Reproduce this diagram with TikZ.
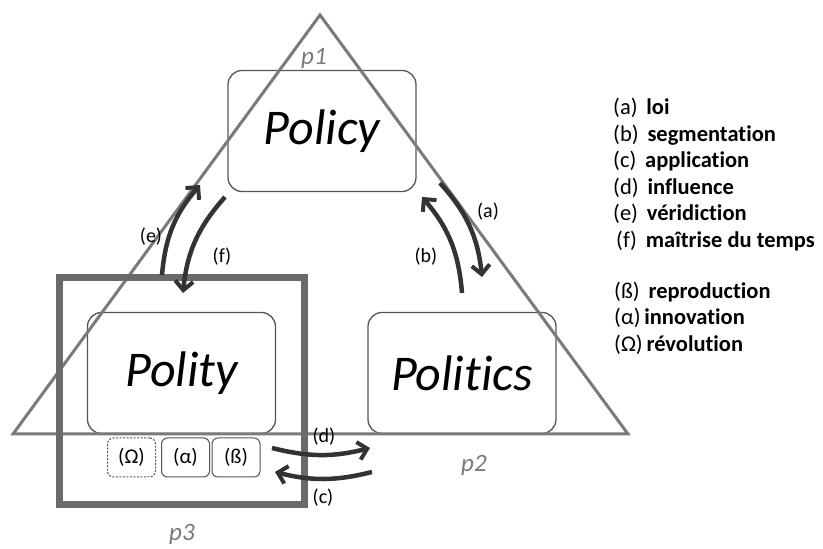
\documentclass[tikz,border=0pt]{standalone}
\usepackage{fontspec}
\setmainfont{Carlito}[Ligatures=NoCommon]
\usetikzlibrary{arrows.meta}
\definecolor{trigray}{HTML}{7A7A7A}
\definecolor{boxgray}{HTML}{555555}
\definecolor{sqgray}{HTML}{6A6A6A}
\definecolor{arrowdark}{HTML}{333333}
\tikzset{
  pbox/.style={draw=boxgray, line width=1.3pt, rounded corners=14pt, minimum width=188pt, minimum height=121pt, inner sep=0pt},
  bigtxt/.style={font=\fontsize{50}{54}\selectfont\itshape},
  smallbox/.style={draw=boxgray, line width=1pt, rounded corners=6pt, minimum width=48pt, minimum height=39pt, inner sep=0pt, font=\fontsize{21}{23}\selectfont},
  flow/.style={draw=arrowdark, line width=4.5pt, -{Straight Barb[length=9pt,width=18pt,line width=4pt]}},
  flowlbl/.style={font=\fontsize{20}{22}\selectfont, text=black},
  plbl/.style={font=\fontsize{25}{27}\selectfont\itshape, text=trigray},
  legend/.style={anchor=west, font=\fontsize{22.5}{24}\selectfont\bfseries, inner sep=0pt},
}
\begin{document}
\begin{tikzpicture}[x=1pt,y=1pt]
\useasboundingbox (0,0) rectangle (823,549);
\fill[white] (0,0) rectangle (823,549);
% boxes
\node[pbox] (policy) at (322,418) {};
\node[pbox] (polity) at (181.5,176) {};
\node[pbox] (politics) at (462,176) {};
% triangle
\coordinate (tA) at (320,534);
\coordinate (tB) at (13,115);
\coordinate (tC) at (628,115);
\draw[trigray, line width=3pt, line join=miter] (tA) -- (tB) -- (tC) -- cycle;
% texts in boxes
\node[bigtxt] at (policy) {Policy};
\node[bigtxt] at (polity) {Polity};
\node[bigtxt] at (politics) {Politics};
% p3 square
\coordinate (s1) at (59,271);
\coordinate (s2) at (304,44);
\draw[sqgray, line width=7pt] (s1) rectangle (s2);
% small boxes
\node[smallbox, dashed, dash pattern=on 2pt off 1.5pt] (omega) at (131.5,91.5) {(Ω)};
\node[smallbox] (alpha) at (185.5,91.5) {(α)};
\node[smallbox] (beta) at (236,91.5) {(ß)};
% p labels
\node[plbl] (p1) at (314,491) {p1};
\node[plbl] (p2) at (474,84) {p2};
\node[plbl] (p3) at (182,15) {p3};
% arrow endpoints
\coordinate (e1) at (162,274);
\coordinate (e2) at (200,364);
\coordinate (f1) at (225,352);
\coordinate (f2) at (183,256);
\coordinate (a1) at (440,366);
\coordinate (a2) at (482,272);
\coordinate (b1) at (462,256);
\coordinate (b2) at (422,352);
\coordinate (d1) at (272,101);
\coordinate (d2) at (370,101);
\coordinate (c1) at (372,77);
\coordinate (c2) at (275,77);
\draw[flow] (e1) to[bend left=18] (e2);
\draw[flow] (f1) to[bend right=18] (f2);
\draw[flow] (a1) to[bend left=18] (a2);
\draw[flow] (b1) to[bend right=18] (b2);
\draw[flow] (d1) to[bend right=14] (d2);
\draw[flow] (c1) to[bend left=14] (c2);
% arrow labels
\node[flowlbl] (le) at (151,312) {(e)};
\node[flowlbl] (lf) at (222,292) {(f)};
\node[flowlbl] (la) at (488,337) {(a)};
\node[flowlbl] (lb) at (426,292) {(b)};
\node[flowlbl] (ld) at (324,112) {(d)};
\node[flowlbl] (lc) at (323,51) {(c)};
% legend
\node[legend] (g1) at (613,441) {\mdseries(a)\, \bfseries loi};
\node[legend] (g2) at (613,414) {\mdseries(b)\, \bfseries segmentation};
\node[legend] (g3) at (613,388) {\mdseries(c)\, \bfseries application};
\node[legend] (g4) at (613,361) {\mdseries(d)\, \bfseries influence};
\node[legend] (g5) at (613,335) {\mdseries(e)\, \bfseries véridiction};
\node[legend] (g6) at (616,308) {\mdseries(f)\, \bfseries maîtrise du temps};
\node[legend] (g7) at (614,257) {\mdseries(ß)\, \bfseries reproduction};
\node[legend] (g8) at (614,231) {\mdseries(α)\,\bfseries innovation};
\node[legend] (g9) at (614,204) {\mdseries(Ω)\,\bfseries révolution};
\end{tikzpicture}
\end{document}
